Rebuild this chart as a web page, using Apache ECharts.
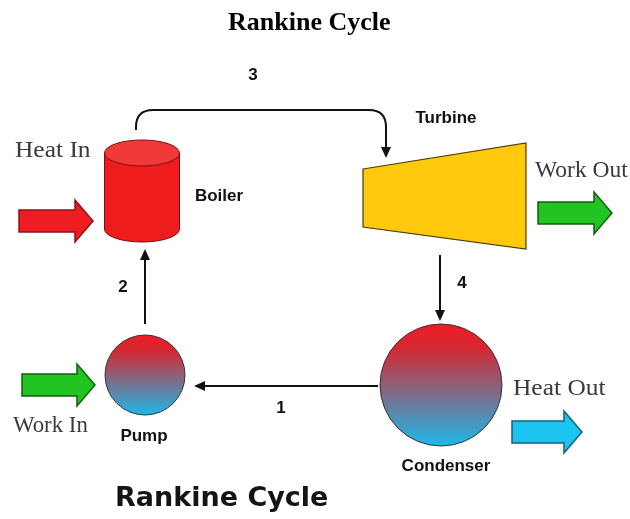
<!DOCTYPE html>
<html>
<head>
<meta charset="utf-8">
<script src="https://cdn.jsdelivr.net/npm/echarts@6/dist/echarts.min.js"></script>
<style>
  html, body { margin: 0; padding: 0; background: #fff; }
  #main { width: 630px; height: 519px; }
</style>
</head>
<body>
<div id="main"></div>
<script>
// parts of the cycle, state points between them, energy crossing the boundary
const components = ['Boiler', 'Turbine', 'Condenser', 'Pump'];
const statePoints = ['1', '2', '3', '4'];
const energyFlows = ['Heat In', 'Work Out', 'Heat Out', 'Work In'];
const titleText = 'Rankine Cycle';

// layout, in diagram units (x 0..630, y 0..519 from the top)
const compPos = [[142, 191], [444, 196], [441, 385], [145, 375]];
const compLabelPos = [[219, 196], [446, 118], [446, 466], [144, 436]];
const statePaths = [
  [[378, 386], [194, 386]],
  [[145, 324], [145, 249]],
  [[136, 130], [136, 110], [386, 110], [386, 158]],
  [[440, 255], [440, 321]]
];
const stateLabelPos = [[281, 408], [123, 287], [253, 75], [462, 283]];
const flowArrowPos = [[19, 221], [538, 213], [512, 432], [22, 385]];
const flowArrowLen = [74, 74, 70, 73];
const flowLabelPos = [[15, 151], [535, 171], [513, 389], [13, 426]];
const flowLabelStretch = [1.06, 0.98, 1.06, 0.95];
const flowColors = [
  ['#ee1d23', '#8a1414'],
  ['#22c422', '#155e15'],
  ['#1cc4f0', '#1b5e78'],
  ['#22c422', '#155e15']
];

const chart = echarts.init(document.getElementById('main'));

function hotCold() {
  return new echarts.graphic.LinearGradient(0, 0, 0, 1, [
    { offset: 0, color: '#ee1c24' },
    { offset: 0.2, color: '#d42832' },
    { offset: 1, color: '#1cb9ec' }
  ]);
}

const labelFont = 'bold 17px "Liberation Sans", Arial, sans-serif';
const serifFont = '24px "Liberation Serif", "Times New Roman", serif';

function renderComponent(params, api) {
  const i = params.dataIndex;
  const c = api.coord(compPos[i]);
  const lp = api.coord(compLabelPos[i]);
  const children = [];
  const name = components[i];
  if (name === 'Boiler') {
    const rx = 37.5, ry = 13, top = c[1] - 38, bot = c[1] + 38;
    const l = c[0] - rx, r = c[0] + rx;
    children.push({
      type: 'path',
      shape: { pathData: `M${l},${top} L${l},${bot} A${rx},${ry} 0 0 0 ${r},${bot} L${r},${top} Z` },
      style: { fill: '#ee1c1c', stroke: '#7a1010', lineWidth: 1 }
    });
    children.push({
      type: 'path',
      shape: { pathData: `M${l},${top} A${rx},${ry} 0 1 0 ${r},${top} A${rx},${ry} 0 1 0 ${l},${top} Z` },
      style: { fill: '#f03a3a', stroke: '#7a1010', lineWidth: 1 }
    });
  } else if (name === 'Turbine') {
    const rel = [[-81, -27], [82, -53], [82, 53], [-81, 31]];
    children.push({
      type: 'polygon',
      shape: { points: rel.map(p => api.coord([compPos[i][0] + p[0], compPos[i][1] + p[1]])) },
      style: { fill: '#ffc90e', stroke: '#4a3a10', lineWidth: 1.2 }
    });
  } else {
    const r = name === 'Condenser' ? 61 : 40;
    children.push({
      type: 'circle',
      shape: { cx: c[0], cy: c[1], r: r },
      style: { fill: hotCold(), stroke: '#333', lineWidth: 1 }
    });
  }
  children.push({
    type: 'text',
    style: { text: name, x: lp[0], y: lp[1], font: labelFont, fill: '#111', align: 'center', verticalAlign: 'middle' }
  });
  return { type: 'group', children: children };
}

function roundedPath(pts, r) {
  let d = `M${pts[0][0]},${pts[0][1]}`;
  for (let k = 1; k < pts.length - 1; k++) {
    const p = pts[k - 1], c = pts[k], n = pts[k + 1];
    const l1 = Math.hypot(c[0] - p[0], c[1] - p[1]);
    const l2 = Math.hypot(n[0] - c[0], n[1] - c[1]);
    const a = [c[0] - (c[0] - p[0]) / l1 * r, c[1] - (c[1] - p[1]) / l1 * r];
    const b = [c[0] + (n[0] - c[0]) / l2 * r, c[1] + (n[1] - c[1]) / l2 * r];
    d += ` L${a[0]},${a[1]} Q${c[0]},${c[1]} ${b[0]},${b[1]}`;
  }
  const last = pts[pts.length - 1];
  d += ` L${last[0]},${last[1]}`;
  return d;
}

function renderState(params, api) {
  const i = params.dataIndex;
  const pts = statePaths[i].map(p => api.coord(p));
  const tip = pts[pts.length - 1];
  const prev = pts[pts.length - 2];
  const len = Math.hypot(tip[0] - prev[0], tip[1] - prev[1]);
  const ux = (tip[0] - prev[0]) / len, uy = (tip[1] - prev[1]) / len;
  const head = 11, half = 5;
  const base = [tip[0] - ux * head, tip[1] - uy * head];
  const linePts = pts.slice(0, -1).concat([[base[0] + ux * 2, base[1] + uy * 2]]);
  const lp = api.coord(stateLabelPos[i]);
  return {
    type: 'group',
    children: [
      {
        type: 'path',
        shape: { pathData: roundedPath(linePts, 17) },
        style: { fill: null, stroke: '#111', lineWidth: 2 }
      },
      {
        type: 'polygon',
        shape: { points: [tip, [base[0] - uy * half, base[1] + ux * half], [base[0] + uy * half, base[1] - ux * half]] },
        style: { fill: '#111' }
      },
      {
        type: 'text',
        style: { text: statePoints[i], x: lp[0], y: lp[1], font: 'bold 17px "Liberation Sans", Arial, sans-serif', fill: '#111', align: 'center', verticalAlign: 'middle' }
      }
    ]
  };
}

function renderFlow(params, api) {
  const i = params.dataIndex;
  const t = api.coord(flowArrowPos[i]);
  const x0 = t[0], y = t[1], xt = x0 + flowArrowLen[i];
  const sh = 11, hh = 21, hl = 18;
  const pts = [[x0, y - sh], [xt - hl, y - sh], [xt - hl, y - hh], [xt, y], [xt - hl, y + hh], [xt - hl, y + sh], [x0, y + sh]];
  const lp = api.coord(flowLabelPos[i]);
  return {
    type: 'group',
    children: [
      {
        type: 'polygon',
        shape: { points: pts },
        style: { fill: flowColors[i][0], stroke: flowColors[i][1], lineWidth: 1.5 }
      },
      {
        type: 'text',
        x: lp[0],
        y: lp[1],
        scaleX: flowLabelStretch[i],
        style: { text: energyFlows[i], x: 0, y: 0, font: serifFont, fill: '#3a3a3a', align: 'left', verticalAlign: 'middle' }
      }
    ]
  };
}

const option = {
  animation: false,
  backgroundColor: '#fff',
  title: [
    {
      text: titleText,
      left: 228,
      top: 10,
      padding: 0,
      textStyle: { fontFamily: '"Liberation Serif", "Times New Roman", serif', fontWeight: 'bold', fontSize: 26, color: '#000' }
    },
    {
      text: titleText,
      left: 115,
      top: 485,
      padding: 0,
      textStyle: { fontFamily: '"DejaVu Sans", Arial, sans-serif', fontWeight: 'bold', fontSize: 27, color: '#141414' }
    }
  ],
  grid: { left: 0, right: 0, top: 0, bottom: 0 },
  xAxis: { type: 'value', min: 0, max: 630, show: false },
  yAxis: { type: 'value', min: 0, max: 519, inverse: true, show: false },
  series: [
    {
      type: 'custom',
      name: 'flows',
      silent: true,
      renderItem: renderFlow,
      data: energyFlows.map((n, i) => ({ name: n, value: flowArrowPos[i] }))
    },
    {
      type: 'custom',
      name: 'states',
      silent: true,
      renderItem: renderState,
      data: statePoints.map((n, i) => ({ name: n, value: stateLabelPos[i] }))
    },
    {
      type: 'custom',
      name: 'components',
      silent: true,
      renderItem: renderComponent,
      data: components.map((n, i) => ({ name: n, value: compPos[i] }))
    }
  ]
};

chart.setOption(option);
</script>
</body>
</html>
